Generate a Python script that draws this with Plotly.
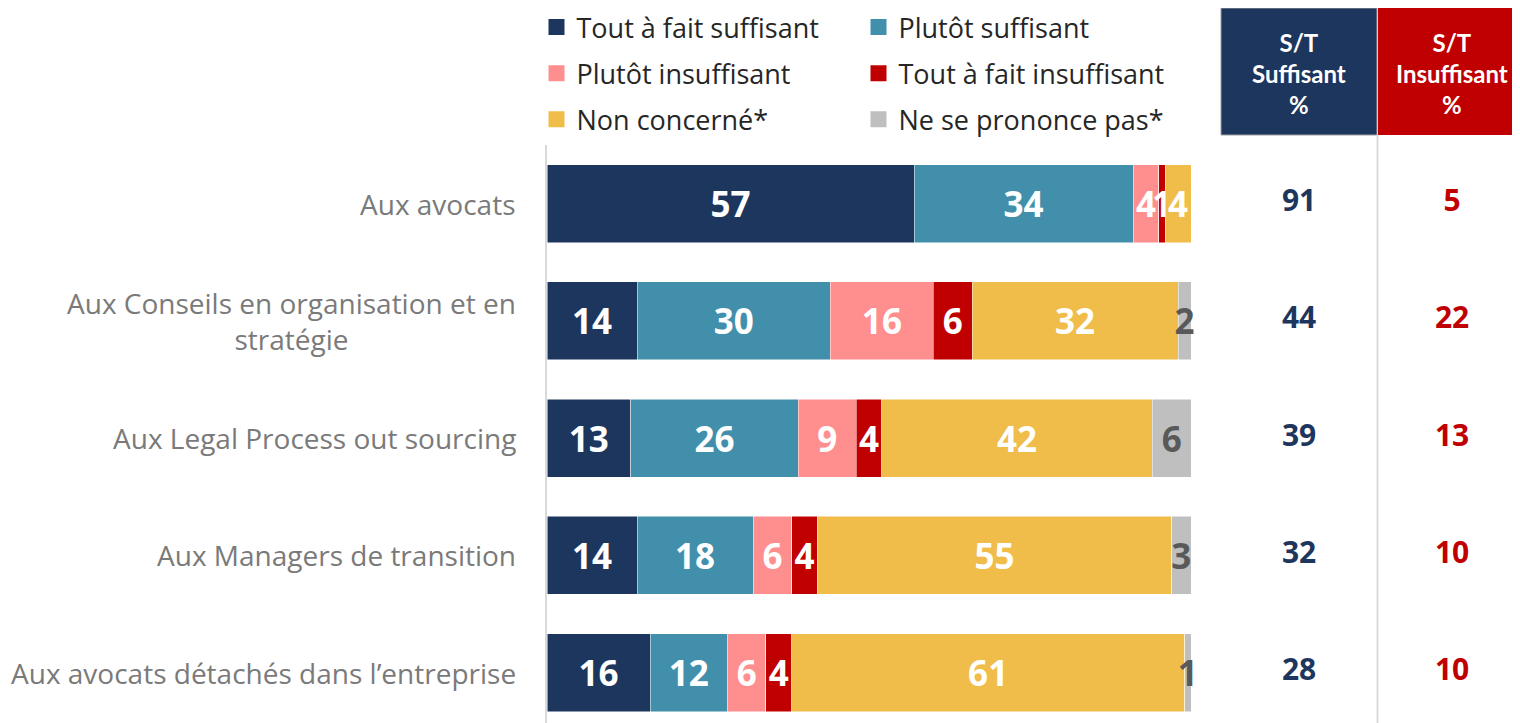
import plotly.graph_objects as go

categories = [
    "Aux avocats",
    "Aux Conseils en organisation et en<br>stratégie",
    "Aux Legal Process out sourcing",
    "Aux Managers de transition",
    "Aux avocats détachés dans l’entreprise",
]
series_names = [
    "Tout à fait suffisant",
    "Plutôt suffisant",
    "Plutôt insuffisant",
    "Tout à fait insuffisant",
    "Non concerné*",
    "Ne se prononce pas*",
]
tout_suff = [57, 14, 13, 14, 16]
plutot_suff = [34, 30, 26, 18, 12]
plutot_insuff = [4, 16, 9, 6, 6]
tout_insuff = [1, 6, 4, 4, 4]
non_concerne = [4, 32, 42, 55, 61]
nspp = [0, 2, 6, 3, 1]

series_values = [tout_suff, plutot_suff, plutot_insuff, tout_insuff, non_concerne, nspp]
colors = ["#1d365d", "#428fab", "#ff8f8f", "#c00000", "#f0bd4a", "#bfbfbf"]
text_colors = ["white", "white", "white", "white", "white", "#595959"]

st_suff = [a + b for a, b in zip(tout_suff, plutot_suff)]
st_insuff = [a + b for a, b in zip(plutot_insuff, tout_insuff)]

ypos = list(range(len(categories)))
FONT = "Open Sans"

# page is offset by the 8px body margin; plot area = 547..1520 x 145..723 on screen
def px_x(p):
    return (p - 547) / 973

def px_y(p):
    return (723 - p) / 578

fig = go.Figure()
for i, (name, vals) in enumerate(zip(series_names, series_values)):
    fig.add_trace(go.Bar(
        y=ypos, x=vals, name=name, orientation="h",
        marker=dict(color=colors[i], line=dict(color="white", width=0.5)),
        text=[str(v) if v else "" for v in vals],
        textposition="inside", insidetextanchor="middle",
        textfont=dict(color=text_colors[i], size=35, family=FONT, weight="bold"),
        cliponaxis=False, showlegend=False,
        hoverinfo="skip",
    ))

# legend entries with bigger square icons
for i, name in enumerate(series_names):
    fig.add_trace(go.Scatter(
        x=[None], y=[None], mode="markers", name=name,
        marker=dict(symbol="square", size=16, color=colors[i]),
        legend="legend" if i % 2 == 0 else "legend2",
        legendgroup=name,
    ))

# S/T columns
fig.add_trace(go.Scatter(
    x=[0] * len(ypos), y=ypos, mode="text", xaxis="x2", yaxis="y",
    text=[str(v) for v in st_suff], showlegend=False,
    textfont=dict(color="#1d365d", size=30, family=FONT, weight="bold"),
))
fig.add_trace(go.Scatter(
    x=[1] * len(ypos), y=ypos, mode="text", xaxis="x2", yaxis="y",
    text=[str(v) for v in st_insuff], showlegend=False,
    textfont=dict(color="#c00000", size=30, family=FONT, weight="bold"),
))

annotations = []
for i, cat in enumerate(categories):
    annotations.append(dict(
        x=px_x(518), xref="paper", y=i, yref="y", text=cat,
        xanchor="right", yanchor="middle", align="center", showarrow=False,
        font=dict(size=28, color="#7a7a7a", family=FONT),
    ))
for xc, label in [(1299, "S/T<br>Suffisant<br>%"), (1452, "S/T<br>Insuffisant<br>%")]:
    annotations.append(dict(
        x=px_x(xc), xref="paper", y=px_y(73), yref="paper",
        xanchor="center", yanchor="middle",
        text=label, showarrow=False, align="center",
        font=dict(size=24, color="white", family="Lato", weight="bold"),
    ))

shapes = [
    dict(type="rect", xref="paper", yref="paper",
         x0=px_x(1221), x1=px_x(1377), y0=px_y(135), y1=px_y(8),
         fillcolor="#1d365d", line=dict(color="#a0a0a0", width=1)),
    dict(type="rect", xref="paper", yref="paper",
         x0=px_x(1378), x1=1.0, y0=px_y(135), y1=px_y(8),
         fillcolor="#c00000", line=dict(width=0)),
    dict(type="line", xref="paper", yref="paper",
         x0=px_x(1377.5), x1=px_x(1377.5), y0=0, y1=px_y(135),
         line=dict(color="#d9d9d9", width=2)),
]

legend_font = dict(size=27, color="#262626", family=FONT)
fig.update_layout(
    width=1512, height=715,
    barmode="stack", bargap=0.335,
    plot_bgcolor="white", paper_bgcolor="white",
    margin=dict(l=539, r=0, t=137, b=0, autoexpand=False),
    xaxis=dict(domain=[0, 644 / 973], range=[0, 100], visible=False, fixedrange=True),
    xaxis2=dict(domain=[px_x(1221), 1], range=[-0.51, 1.444], visible=False),
    yaxis=dict(range=[4.43, -0.5], showticklabels=False, showgrid=False, zeroline=False,
               showline=True, linecolor="#d9d9d9", linewidth=2),
    legend=dict(x=px_x(536.5), xanchor="left", y=px_y(3), yanchor="top",
                font=legend_font, tracegroupgap=8, bgcolor="rgba(0,0,0,0)",
                itemwidth=30),
    legend2=dict(x=px_x(858.5), xanchor="left", y=px_y(3), yanchor="top",
                 font=legend_font, tracegroupgap=8, bgcolor="rgba(0,0,0,0)",
                 itemwidth=30),
    uniformtext=dict(mode="show", minsize=35),
    annotations=annotations, shapes=shapes,
    showlegend=True,
)

fig.write_html("out.html")
